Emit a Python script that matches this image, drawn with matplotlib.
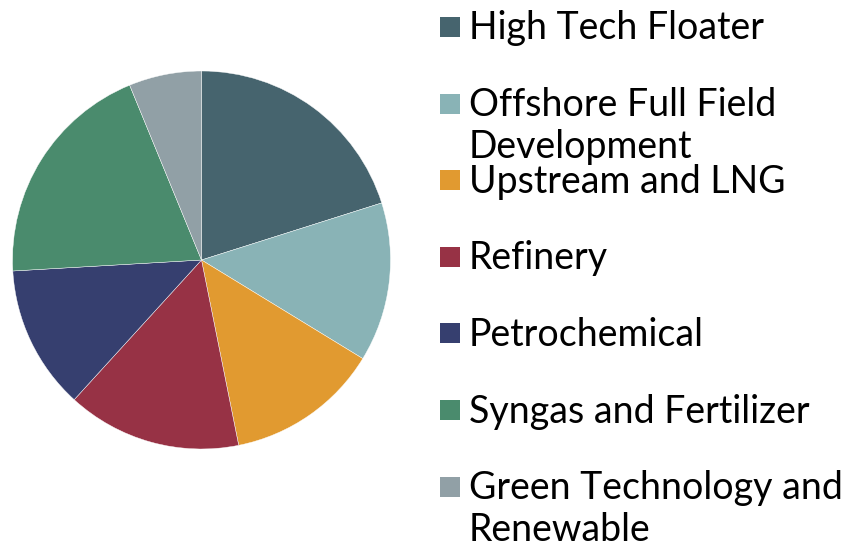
import matplotlib
matplotlib.use("Agg")
import matplotlib.pyplot as plt
from matplotlib.patches import Rectangle

categories = ["High Tech Floater", "Offshore Full Field\nDevelopment", "Upstream and LNG",
              "Refinery", "Petrochemical", "Syngas and Fertilizer",
              "Green Technology and\nRenewable"]
shares = [20.1, 13.6, 13.1, 14.9, 12.3, 19.7, 6.2]
colors = ["#46646E", "#89B3B6", "#E19A30", "#973245", "#363F6F", "#4A8B6D", "#91A0A6"]

W, H = 846, 544
fig = plt.figure(figsize=(W / 100, H / 100), dpi=100)
fig.patch.set_facecolor("white")

cx, cy, r = 201.5, 260, 189
ax = fig.add_axes([(cx - r) / W, (H - cy - r) / H, 2 * r / W, 2 * r / H])
ax.pie(shares, colors=colors, startangle=90, counterclock=False, radius=1,
       wedgeprops=dict(linewidth=0.3, edgecolor="white"))
ax.set_xlim(-1, 1)
ax.set_ylim(-1, 1)
ax.set_aspect("equal")
ax.axis("off")

# manual legend
y0, step = 27, 76.6
sq = 20
for i, (lab, c) in enumerate(zip(categories, colors)):
    yc = y0 + i * step
    fig.patches.append(Rectangle((440 / W, (H - yc - sq / 2) / H), sq / W, sq / H,
                                 transform=fig.transFigure, facecolor=c, edgecolor="none"))
    for j, line in enumerate(lab.split("\n")):
        fig.text(469 / W, (H - yc - 12.5 - 42 * j) / H, line, ha="left", va="baseline",
                 fontsize=27, family=["Lato", "DejaVu Sans"], color="black")

fig.savefig("out.png", dpi=100)
